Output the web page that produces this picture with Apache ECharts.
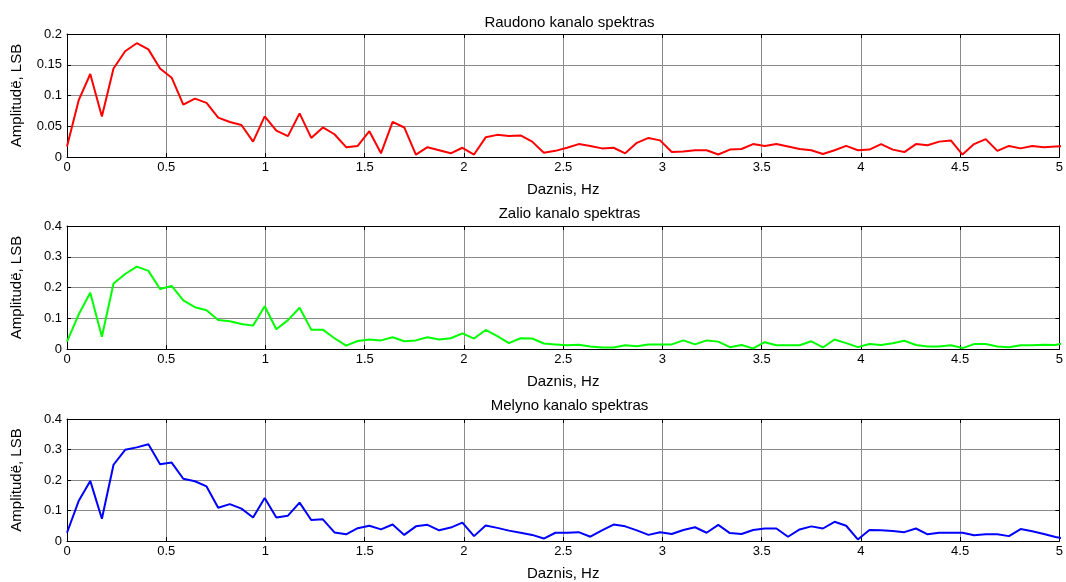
<!DOCTYPE html>
<html>
<head>
<meta charset="utf-8">
<script src="https://cdn.jsdelivr.net/npm/echarts@6/dist/echarts.min.js"></script>
<style>
html,body{margin:0;padding:0;background:#fff;}
#chart{width:1066px;height:582px;}
</style>
</head>
<body>
<div id="chart"></div>
<script>
const freq = [0, 0.0586, 0.1172, 0.1758, 0.2344, 0.2930, 0.3516, 0.4102, 0.4688, 0.5273,
  0.5859, 0.6445, 0.7031, 0.7617, 0.8203, 0.8789, 0.9375, 0.9961, 1.0547, 1.1133,
  1.1719, 1.2305, 1.2891, 1.3477, 1.4063, 1.4648, 1.5234, 1.5820, 1.6406, 1.6992,
  1.7578, 1.8164, 1.8750, 1.9336, 1.9922, 2.0508, 2.1094, 2.1680, 2.2266, 2.2852,
  2.3438, 2.4023, 2.4609, 2.5195, 2.5781, 2.6367, 2.6953, 2.7539, 2.8125, 2.8711,
  2.9297, 2.9883, 3.0469, 3.1055, 3.1641, 3.2227, 3.2813, 3.3398, 3.3984, 3.4570,
  3.5156, 3.5742, 3.6328, 3.6914, 3.7500, 3.8086, 3.8672, 3.9258, 3.9844, 4.0430,
  4.1016, 4.1602, 4.2188, 4.2773, 4.3359, 4.3945, 4.4531, 4.5117, 4.5703, 4.6289,
  4.6875, 4.7461, 4.8047, 4.8633, 4.9219, 4.9805, 5.0391];

const redAmp = [0.017, 0.092, 0.135, 0.066, 0.144, 0.172, 0.185, 0.175, 0.144, 0.129,
  0.085, 0.095, 0.088, 0.064, 0.057, 0.052, 0.025, 0.066, 0.043, 0.034,
  0.071, 0.031, 0.048, 0.037, 0.016, 0.018, 0.042, 0.006, 0.057, 0.048,
  0.004, 0.016, 0.011, 0.006, 0.015, 0.004, 0.032, 0.036, 0.034, 0.035,
  0.025, 0.007, 0.010, 0.015, 0.021, 0.018, 0.014, 0.015, 0.006, 0.023,
  0.031, 0.027, 0.008, 0.009, 0.011, 0.011, 0.004, 0.012, 0.013, 0.021,
  0.018, 0.021, 0.017, 0.013, 0.011, 0.005, 0.011, 0.018, 0.011, 0.012,
  0.021, 0.012, 0.008, 0.021, 0.019, 0.025, 0.027, 0.004, 0.021, 0.029,
  0.010, 0.018, 0.014, 0.018, 0.016, 0.017, 0.018];

const greenAmp = [0.024, 0.112, 0.183, 0.040, 0.213, 0.244, 0.268, 0.254, 0.195, 0.205,
  0.158, 0.136, 0.126, 0.094, 0.090, 0.081, 0.076, 0.139, 0.064, 0.094,
  0.134, 0.063, 0.063, 0.035, 0.011, 0.026, 0.031, 0.028, 0.038, 0.025,
  0.028, 0.038, 0.031, 0.035, 0.051, 0.034, 0.062, 0.042, 0.019, 0.035,
  0.034, 0.018, 0.015, 0.012, 0.014, 0.008, 0.005, 0.005, 0.012, 0.009,
  0.015, 0.015, 0.015, 0.028, 0.015, 0.028, 0.024, 0.006, 0.013, 0.002,
  0.022, 0.012, 0.012, 0.012, 0.025, 0.005, 0.031, 0.019, 0.006, 0.016,
  0.013, 0.019, 0.027, 0.013, 0.008, 0.008, 0.012, 0.003, 0.016, 0.016,
  0.008, 0.006, 0.012, 0.012, 0.014, 0.013, 0.021];

const blueAmp = [0.027, 0.131, 0.197, 0.073, 0.250, 0.299, 0.307, 0.317, 0.252, 0.257,
  0.204, 0.196, 0.179, 0.109, 0.121, 0.106, 0.077, 0.141, 0.077, 0.083,
  0.126, 0.069, 0.071, 0.028, 0.022, 0.042, 0.050, 0.038, 0.054, 0.020,
  0.048, 0.053, 0.035, 0.044, 0.060, 0.016, 0.051, 0.043, 0.034, 0.027,
  0.020, 0.008, 0.027, 0.027, 0.029, 0.014, 0.035, 0.054, 0.048, 0.035,
  0.020, 0.029, 0.023, 0.036, 0.045, 0.027, 0.053, 0.026, 0.023, 0.036,
  0.041, 0.041, 0.014, 0.038, 0.048, 0.041, 0.063, 0.050, 0.005, 0.036,
  0.035, 0.033, 0.029, 0.041, 0.022, 0.027, 0.027, 0.027, 0.019, 0.022,
  0.022, 0.016, 0.039, 0.032, 0.023, 0.013, 0.007];

const panelTitles = ['Raudono kanalo spektras', 'Zalio kanalo spektras', 'Melyno kanalo spektras'];
const xAxisName = 'Daznis, Hz';
const yAxisName = 'Amplitudë, LSB';
const yMaxes = [0.2, 0.4, 0.4];
const yIntervals = [0.05, 0.1, 0.1];
const xMin = 0, xMax = 5, xInterval = 0.5;
const seriesList = [redAmp, greenAmp, blueAmp];
const colors = ['#ff0000', '#00ff00', '#0000ff'];

const FONT = 'Liberation Sans, Arial, sans-serif';
const gridTops = [34, 226, 419];
const gridHeights = [123, 123, 122];
const titleTops = [10, 201, 393];

const chart = echarts.init(document.getElementById('chart'));
const grids = [], xAxes = [], yAxes = [], series = [], titles = [];
const gridLine = { show: true, lineStyle: { color: '#8a8a8a', width: 1 } };
const blackLine = { show: true, onZero: false, lineStyle: { color: '#000', width: 1 } };

for (let i = 0; i < 3; i++) {
  grids.push({ left: 67, right: 4, top: gridTops[i], height: gridHeights[i], containLabel: false });
  titles.push({
    text: panelTitles[i], left: 564.5, top: titleTops[i], textAlign: 'center',
    textStyle: { fontFamily: FONT, fontSize: 15, fontWeight: 'normal', color: '#000' }
  });
  xAxes.push({
    type: 'value', gridIndex: i, position: 'bottom', min: xMin, max: xMax, interval: xInterval,
    name: xAxisName, nameLocation: 'middle', nameGap: 25,
    nameTextStyle: { fontFamily: FONT, fontSize: 15, color: '#000' },
    axisLine: blackLine,
    axisTick: { show: true, inside: true, length: 4, lineStyle: { color: '#000' } },
    axisLabel: { fontFamily: FONT, fontSize: 13, color: '#000', margin: 4 },
    splitLine: gridLine
  });
  xAxes.push({
    type: 'value', gridIndex: i, position: 'top', min: xMin, max: xMax, interval: xInterval,
    axisLine: blackLine,
    axisTick: { show: true, inside: true, length: 4, lineStyle: { color: '#000' } },
    axisLabel: { show: false }, splitLine: { show: false }
  });
  yAxes.push({
    type: 'value', gridIndex: i, position: 'left', min: 0, max: yMaxes[i], interval: yIntervals[i],
    name: yAxisName, nameLocation: 'middle', nameGap: 43, nameRotate: 90,
    nameTextStyle: { fontFamily: FONT, fontSize: 15, color: '#000' },
    axisLine: blackLine,
    axisTick: { show: true, inside: true, length: 4, lineStyle: { color: '#000' } },
    axisLabel: { fontFamily: FONT, fontSize: 13, color: '#000', margin: 5 },
    splitLine: gridLine
  });
  yAxes.push({
    type: 'value', gridIndex: i, position: 'right', min: 0, max: yMaxes[i], interval: yIntervals[i],
    axisLine: blackLine,
    axisTick: { show: true, inside: true, length: 4, lineStyle: { color: '#000' } },
    axisLabel: { show: false }, splitLine: { show: false }
  });
  series.push({
    type: 'line', xAxisIndex: i * 2, yAxisIndex: i * 2,
    data: freq.map((f, k) => [f, seriesList[i][k]]),
    showSymbol: false, symbol: 'none', clip: true, animation: false,
    lineStyle: { color: colors[i], width: 2 }
  });
}

chart.setOption({
  animation: false,
  backgroundColor: '#fff',
  title: titles,
  grid: grids,
  xAxis: xAxes,
  yAxis: yAxes,
  series: series
});
</script>
</body>
</html>
